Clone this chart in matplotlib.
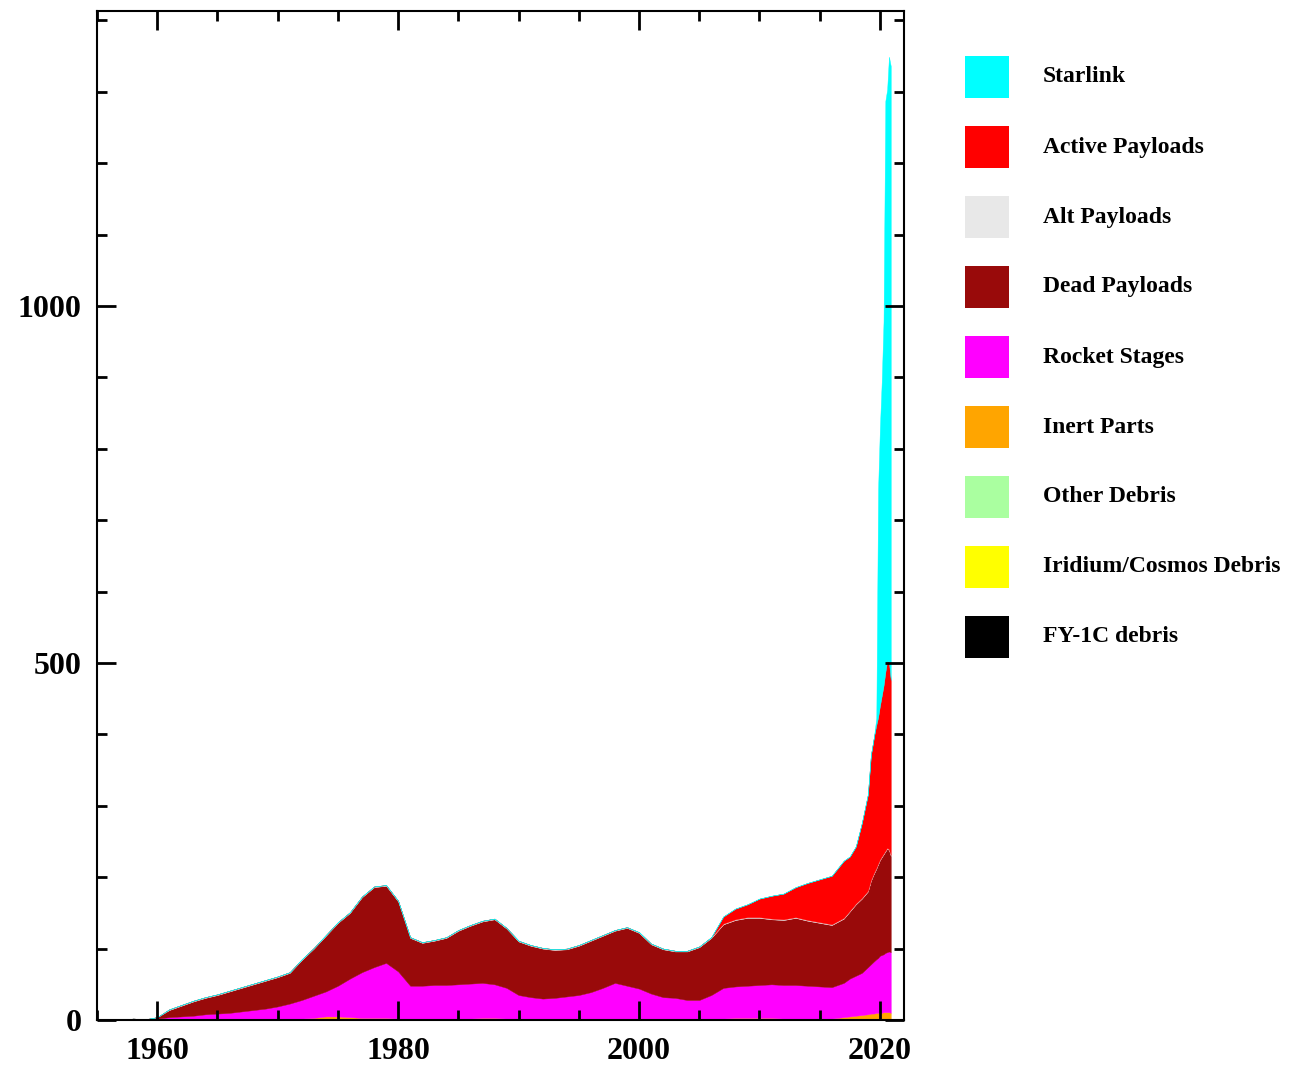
import matplotlib
matplotlib.use("Agg")
import matplotlib.pyplot as plt
from matplotlib.ticker import MultipleLocator
from matplotlib.patches import Rectangle

# time axis: yearly up to 2016, finer near the end where Starlink shoots up
years = list(range(1957, 2017)) + [2017, 2017.5, 2018, 2018.5, 2019, 2019.25, 2019.5,
                                    2019.7, 2019.85, 2020.0, 2020.15, 2020.3, 2020.45,
                                    2020.6, 2020.75, 2020.9]

# upper edge of the dead payload band (everything from the baseline up to it)
dead_top = [0, 2, 1, 4, 14, 20, 26, 31, 35, 40, 45, 50, 55, 60, 66, 84, 100, 118, 136, 150,
            172, 186, 188, 166, 115, 108, 111, 115, 125, 132, 138, 141, 128, 110, 104, 100,
            98, 99, 104, 111, 118, 125, 129, 122, 106, 99, 96, 96, 102, 115, 134, 140, 143,
            143, 141, 140, 143, 139, 136, 133,
            142, 152, 162, 170, 180, 195, 205, 212, 218, 224, 228, 232, 236, 240, 238, 230]

# upper edge of rocket stages (inert parts + rocket stages)
rocket_top = [0, 1, 0, 2, 4, 5, 6, 8, 9, 10, 12, 14, 16, 19, 23, 28, 34, 40, 48, 58,
              67, 74, 80, 68, 48, 48, 49, 49, 50, 51, 52, 50, 45, 35, 32, 30,
              31, 33, 35, 39, 45, 52, 48, 44, 37, 32, 31, 28, 28, 35, 45, 47, 48,
              49, 50, 49, 49, 48, 47, 46,
              52, 58, 62, 66, 74, 78, 82, 85, 87, 90, 91, 92, 94, 95, 96, 95]

inert = [0, 0, 0, 0, 1, 1, 1, 1, 1, 1, 1, 2, 2, 2, 2, 2, 3, 5, 5, 4,
         3, 3, 3, 2, 2, 2, 2, 2, 2, 2, 3, 3, 2, 2, 2, 2,
         2, 2, 2, 2, 2, 2, 2, 2, 2, 2, 2, 2, 2, 2, 2, 3, 3,
         3, 3, 2, 2, 2, 2, 2,
         4, 5, 6, 7, 8, 9, 9, 10, 10, 10, 10, 11, 11, 11, 11, 10]

active = [0] * 50 + [10, 15, 18, 26, 32, 36, 42, 52, 60, 68,
                     80, 76, 80, 105, 135, 175, 190, 200, 205, 215, 225, 235, 250,
                     262, 262, 245]

starlink = [0] * 67 + [10, 320, 390, 440, 510, 800, 800, 848, 860]

alt = [0] * 4 + [1] * 72
other = [0] * 76
iridium = [0] * 76
fy1c = [0] * 76

rocket = [r - i for r, i in zip(rocket_top, inert)]
dead = [d - r for d, r in zip(dead_top, rocket_top)]

labels = ["Starlink", "Active Payloads", "Alt Payloads", "Dead Payloads", "Rocket Stages",
          "Inert Parts", "Other Debris", "Iridium/Cosmos Debris", "FY-1C debris"]
colors = ["#00ffff", "#ff0000", "#e8e8e8", "#990a0a", "#ff00ff",
          "#ffa500", "#aaffa0", "#ffff00", "#000000"]

# stack from the bottom (FY-1C) to the top (Starlink)
layers = [fy1c, iridium, other, inert, rocket, dead, alt, active, starlink]

fig = plt.figure(figsize=(13.12, 10.66), dpi=100)
W, H = 1312, 1066
ax = fig.add_axes([97 / W, 1 - 1020 / H, 807 / W, 1009 / H])

polys = ax.stackplot(years, *layers, colors=colors[::-1], linewidth=0.3)
for p, c in zip(polys, colors[::-1]):
    p.set_edgecolor(c)

ax.set_xlim(1955, 2022)
ax.set_ylim(0, 1413)
ax.xaxis.set_major_locator(MultipleLocator(20))
ax.xaxis.set_minor_locator(MultipleLocator(5))
ax.yaxis.set_major_locator(MultipleLocator(500))
ax.yaxis.set_minor_locator(MultipleLocator(100))
ax.tick_params(which="both", direction="in", top=True, right=True, width=2, color="black")
ax.tick_params(which="major", length=14)
ax.tick_params(which="minor", length=7)
ax.tick_params(axis="y", which="major", pad=11)
ax.tick_params(axis="x", which="major", pad=12)
for s in ax.spines.values():
    s.set_linewidth(1.5)
for t in ax.get_xticklabels() + ax.get_yticklabels():
    t.set_fontfamily("Liberation Serif")
    t.set_fontweight("bold")
    t.set_fontsize(23)

# legend on the right
for i, (lab, c) in enumerate(zip(labels, colors)):
    yc = 77 + 70 * i
    fig.patches.append(Rectangle((965 / W, 1 - (yc + 21) / H), 44 / W, 42 / H,
                                 transform=fig.transFigure, facecolor=c, edgecolor="none"))
    fig.text(1043 / W, 1 - yc / H, lab, va="center", ha="left", fontsize=17,
             fontweight="bold", family="Liberation Serif")

fig.savefig("out.png", dpi=100)
